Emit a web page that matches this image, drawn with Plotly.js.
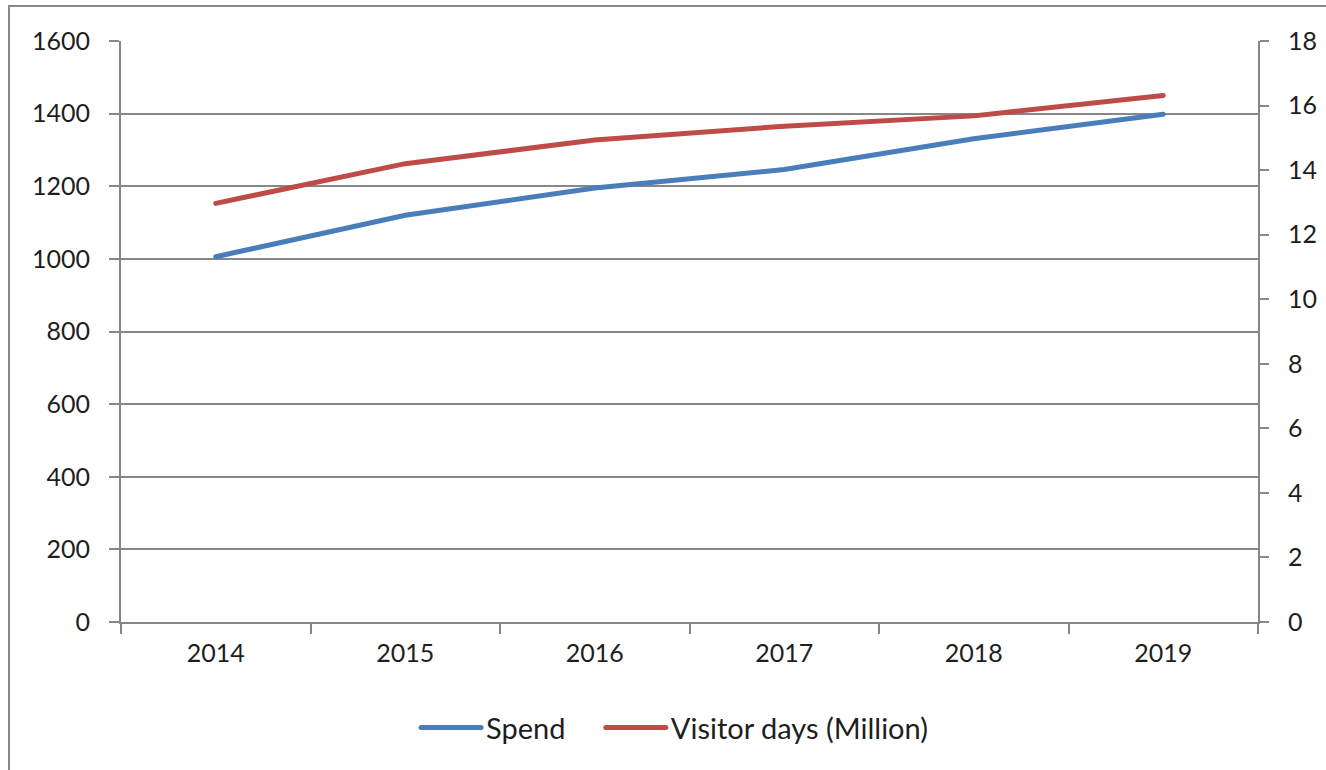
<!DOCTYPE html>
<html>
<head>
<meta charset="utf-8">
<script src="https://cdn.plot.ly/plotly-3.0.1.min.js"></script>
<style>
  html, body { margin: 0; padding: 0; background: #fff; }
  #frame { position: absolute; left: 8px; top: 5px; width: 1330px; height: 780px;
           border-left: 2px solid #898989; border-top: 2px solid #898989; }
  #chart { position: absolute; left: 0; top: 0; width: 1326px; height: 770px; }
</style>
</head>
<body>
<div id="frame"></div>
<div id="chart"></div>
<script>
const years = ['2014', '2015', '2016', '2017', '2018', '2019'];
const spend = [1006, 1120, 1195, 1246, 1331, 1398];
const visitorDays = [12.97, 14.2, 14.93, 15.36, 15.68, 16.31];
const leftTicks = [0, 200, 400, 600, 800, 1000, 1200, 1400, 1600];
const rightTicks = [0, 2, 4, 6, 8, 10, 12, 14, 16, 18];

const FONT = 'Lato, "Open Sans", sans-serif';
const TXT = '#1e1e1e';
const GRID = '#878787';

const traces = [
  { x: years, y: spend, name: 'Spend', type: 'scatter', mode: 'lines',
    line: { color: '#4A7EBB', width: 5 }, yaxis: 'y', legend: 'legend' },
  { x: years, y: visitorDays, name: 'Visitor days (Million)', type: 'scatter', mode: 'lines',
    line: { color: '#BE4B48', width: 5 }, yaxis: 'y2', legend: 'legend2' }
];

const legendBase = { orientation: 'h', xanchor: 'left', y: -0.182, yanchor: 'middle',
  font: { family: FONT, size: 29, color: TXT }, itemwidth: 60, bgcolor: 'rgba(0,0,0,0)' };

const layout = {
  width: 1326, height: 770,
  margin: { l: 121, r: 68, t: 41, b: 148 },
  paper_bgcolor: 'rgba(0,0,0,0)', plot_bgcolor: 'rgba(0,0,0,0)',
  font: { family: FONT, size: 25, color: TXT },
  showlegend: true,
  legend: Object.assign({}, legendBase, { x: 0.2595 }),
  legend2: Object.assign({}, legendBase, { x: 0.422 }),
  xaxis: {
    type: 'category', tickson: 'boundaries', ticks: 'outside', ticklen: 10, tickwidth: 2,
    tickcolor: GRID, showline: true, linecolor: GRID, linewidth: 2, showgrid: false,
    zeroline: false, ticklabelstandoff: 8, fixedrange: true,
    range: [-0.5, 5.5]
  },
  yaxis: {
    range: [0, 1600], tickmode: 'array', tickvals: leftTicks, ticktext: leftTicks.map(String),
    ticks: 'outside', ticklen: 10, tickwidth: 2, tickcolor: GRID,
    showline: true, linecolor: GRID, linewidth: 2,
    showgrid: true, gridcolor: GRID, gridwidth: 2, zeroline: false, ticklabelstandoff: 14
  },
  yaxis2: {
    overlaying: 'y', side: 'right', range: [0, 18], tickmode: 'array', tickvals: rightTicks,
    ticktext: rightTicks.map(String),
    ticks: 'outside', ticklen: 9, tickwidth: 2, tickcolor: GRID,
    showline: true, linecolor: GRID, linewidth: 2, showgrid: false, zeroline: false,
    ticklabelstandoff: 14
  }
};

Plotly.newPlot('chart', traces, layout, { displayModeBar: false, staticPlot: true }).then(function () {
  document.querySelectorAll('.scatterlayer .js-line, .legendlines path').forEach(function (p) {
    p.style.strokeLinecap = 'round';
  });
});
</script>
</body>
</html>
